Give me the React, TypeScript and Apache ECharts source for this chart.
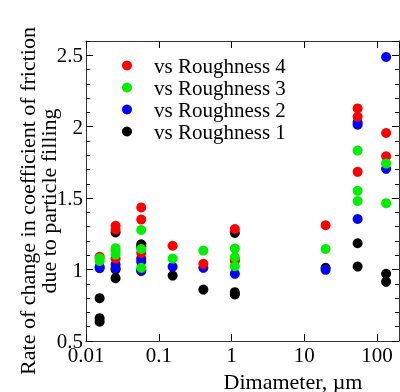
import React, { useEffect, useRef } from 'react';
import * as echarts from 'echarts';

const FONT = '"Liberation Serif", "Times New Roman", serif';

const names = ['vs Roughness 4', 'vs Roughness 3', 'vs Roughness 2', 'vs Roughness 1'];
const colors = ['#ff0000', '#00ee00', '#0000ff', '#000000'];

const xR4 = [0.0154, 0.0255, 0.0255, 0.0255, 0.0574, 0.0574, 0.0574, 0.155, 0.41, 1.11, 1.11, 19.6, 54, 54, 54, 133, 133];
const yR4 = [1.09, 1.307, 1.28, 1.077, 1.435, 1.35, 1.116, 1.167, 1.04, 1.284, 1.06, 1.31, 2.128, 2.07, 1.684, 1.956, 1.793];

const xR3 = [0.0154, 0.0154, 0.0255, 0.0255, 0.0255, 0.0574, 0.0574, 0.0574, 0.155, 0.41, 1.11, 1.11, 1.11, 19.6, 54, 54, 54, 133, 133];
const yR3 = [1.08, 1.06, 1.15, 1.13, 1.105, 1.277, 1.144, 1.012, 1.077, 1.133, 1.147, 1.086, 1.023, 1.144, 1.833, 1.551, 1.48, 1.742, 1.465];

const xR2 = [0.0154, 0.0154, 0.0255, 0.0255, 0.0574, 0.0574, 0.0574, 0.155, 0.41, 1.11, 1.11, 19.6, 54, 54, 54, 133, 133];
const yR2 = [1.02, 1.01, 1.035, 1.01, 1.077, 1.054, 0.995, 1.02, 1.012, 1.07, 0.97, 0.998, 2.03, 2.014, 1.354, 2.488, 1.705];

const xR1 = [0.0154, 0.0154, 0.0154, 0.0255, 0.0255, 0.0255, 0.0574, 0.0574, 0.0574, 0.155, 0.41, 1.11, 1.11, 1.11, 19.6, 54, 54, 133, 133];
const yR1 = [0.8, 0.66, 0.635, 1.26, 1.0, 0.94, 1.177, 1.158, 0.99, 0.958, 0.86, 1.256, 0.842, 0.826, 1.012, 1.184, 1.021, 0.97, 0.914];

const yTitle = 'Rate of change in coefficient of friction\ndue to particle filling';
const xTitle = 'Dimameter, µm';

const zip = (xs: number[], ys: number[]) => xs.map((x, i) => [x, ys[i]]);

export default function App() {
  const ref = useRef<HTMLDivElement>(null);
  useEffect(() => {
    if (!ref.current) return;
    const chart = echarts.init(ref.current, undefined, { renderer: 'svg' });
    const lineStyle = { color: '#333', width: 1 };
    const xBase = {
      type: 'log' as const,
      logBase: 10,
      min: 0.01,
      max: 200,
      splitLine: { show: false },
      axisLine: { show: true, onZero: false, lineStyle },
      axisTick: { show: true, inside: true, length: 7, lineStyle: { color: '#000' } },
    };
    const yBase = {
      type: 'value' as const,
      min: 0.5,
      max: 2.6,
      splitLine: { show: false },
      axisLine: { show: true, onZero: false, lineStyle },
    };
    const seriesData = [
      { name: names[3], data: zip(xR1, yR1), color: colors[3] },
      { name: names[2], data: zip(xR2, yR2), color: colors[2] },
      { name: names[0], data: zip(xR4, yR4), color: colors[0] },
      { name: names[1], data: zip(xR3, yR3), color: colors[1] },
    ];
    chart.setOption({
      animation: false,
      grid: { left: 86, right: 1, top: 41, bottom: 51, containLabel: false },
      legend: {
        data: names,
        orient: 'vertical',
        left: 117,
        top: 50,
        icon: 'circle',
        itemWidth: 44,
        itemHeight: 10,
        itemGap: 1,
        textStyle: { fontFamily: FONT, fontSize: 21, color: '#000', lineHeight: 21 },
      },
      xAxis: [
        {
          ...xBase,
          position: 'bottom',
          axisLabel: {
            show: true,
            fontFamily: FONT,
            fontSize: 21,
            lineHeight: 16,
            color: '#000',
            margin: 6,
            showMaxLabel: false,
            formatter: (v: number) => String(v),
          },
        },
        { ...xBase, position: 'top', axisLabel: { show: false } },
      ],
      yAxis: [
        {
          ...yBase,
          position: 'left',
          interval: 0.5,
          axisTick: { show: true, inside: true, length: 7, lineStyle: { color: '#000' } },
          axisLabel: {
            show: true,
            fontFamily: FONT,
            fontSize: 21,
            lineHeight: 16,
            color: '#000',
            margin: 3,
            showMaxLabel: false,
            formatter: (v: number) => String(Math.round(v * 10) / 10),
          },
        },
        {
          ...yBase,
          position: 'left',
          interval: 0.1,
          axisLine: { show: false },
          axisTick: { show: true, inside: true, length: 4, lineStyle: { color: '#000' } },
          axisLabel: { show: false },
        },
        {
          ...yBase,
          position: 'right',
          interval: 0.5,
          axisTick: { show: true, inside: true, length: 7, lineStyle: { color: '#000' } },
          axisLabel: { show: false },
        },
        {
          ...yBase,
          position: 'right',
          interval: 0.1,
          axisLine: { show: false },
          axisTick: { show: true, inside: true, length: 4, lineStyle: { color: '#000' } },
          axisLabel: { show: false },
        },
      ],
      graphic: [
        {
          type: 'text',
          x: 38,
          y: 201,
          rotation: Math.PI / 2,
          style: {
            text: yTitle,
            fontFamily: FONT,
            fontSize: 22,
            lineHeight: 21,
            fill: '#000',
            align: 'center',
            verticalAlign: 'middle',
          },
        },
        {
          type: 'text',
          x: 293,
          y: 381,
          style: {
            text: xTitle,
            fontFamily: FONT,
            fontSize: 22,
            fill: '#000',
            align: 'center',
            verticalAlign: 'middle',
          },
        },
      ],
      series: seriesData.map((s) => ({
        type: 'scatter',
        name: s.name,
        data: s.data,
        xAxisIndex: 0,
        yAxisIndex: 0,
        symbol: 'circle',
        symbolSize: 10,
        itemStyle: { color: s.color, opacity: 1 },
        emphasis: { disabled: true },
      })),
    });
    return () => chart.dispose();
  }, []);
  return <div ref={ref} style={{ position: 'fixed', left: 0, top: 0, width: 400, height: 392 }} />;
}
